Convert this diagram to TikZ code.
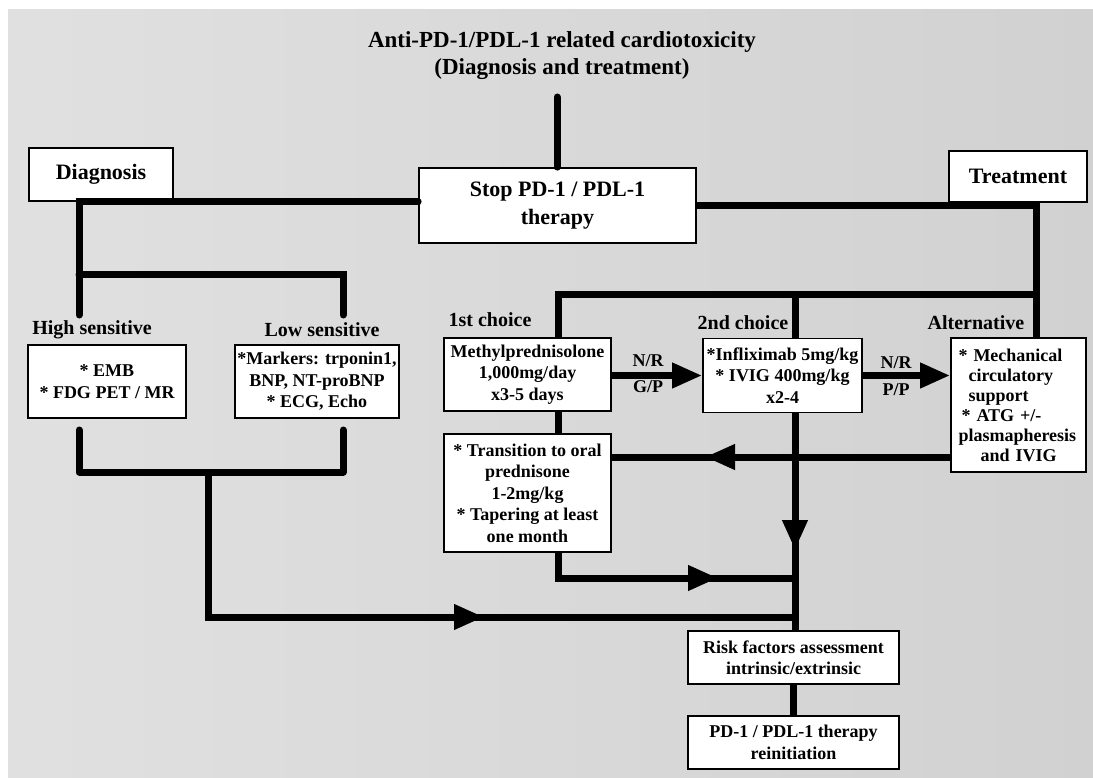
\documentclass[tikz,border=0pt]{standalone}
\usepackage{fontspec}
\setmainfont{Liberation Serif}
\usetikzlibrary{arrows.meta}

\begin{document}
\begin{tikzpicture}
[x=1pt, y=-1pt,
 box/.style={draw, line width=1.8pt, fill=white, align=center, inner sep=0pt,
   font=\bfseries\fontsize{18}{21.5}\selectfont},
 head/.style={box, font=\bfseries\fontsize{22}{28}\selectfont},
 lbl/.style={inner sep=0pt, font=\bfseries\fontsize{20}{24}\selectfont},
 tag/.style={inner sep=0pt, font=\bfseries\fontsize{18}{22}\selectfont},
 >={Triangle[length=30pt, width=24pt]}, line width=7pt]
\fill[white] (0,0) rectangle (1093,778);
\useasboundingbox (0,0) rectangle (1093,778);
\fill[left color=black!12, right color=black!18] (8,10) rectangle (1093,778);

% title and top level
\node[inner sep=0pt, align=center, font=\bfseries\fontsize{23}{27}\selectfont] (title) at (562,56)
  {Anti-PD-1/PDL-1 related cardiotoxicity\\(Diagnosis and treatment)};
\node[head, minimum width=144pt, minimum height=53pt] (diag) at (101,174.5) {Diagnosis};
\node[head, minimum width=277pt, minimum height=75pt] (stop) at (557.5,205.5) {Stop PD-1 / PDL-1\\therapy};
\node[head, minimum width=138pt, minimum height=51pt] (treat) at (1018,176.5) {Treatment};

% diagnosis side
\node[lbl] (hsl) at (92,330) {High sensitive};
\node[lbl] (lsl) at (322,330) {Low sensitive};
\node[box, minimum width=158pt, minimum height=73pt] (high) at (107,381.5) {* EMB\\* FDG PET / MR};
\node[box, minimum width=164pt, minimum height=73pt] (low) at (317,381.5)
  {*Markers: trponin1,\\BNP, NT-proBNP\\* ECG, Echo};

% treatment side
\node[lbl] (c1l) at (490,320) {1st choice};
\node[lbl] (c2l) at (743,323) {2nd choice};
\node[lbl] (altl) at (976,323) {Alternative};
\node[box, minimum width=167pt, minimum height=73pt] (methyl) at (527.5,374.5)
  {Methylprednisolone\\1,000mg/day\\x3-5 days};
\node[box, minimum width=159pt, minimum height=74pt] (second) at (782.5,375.5)
  {*Infliximab 5mg/kg\\* IVIG 400mg/kg\\x2-4};
\node[box, align=left, text width=120pt, minimum width=135pt, minimum height=134pt,
  font=\bfseries\fontsize{18}{20}\selectfont] (alt) at (1018.5,405)
  {* Mechanical\\\hspace*{10pt}circulatory\\\hspace*{10pt}support\\\hspace*{3pt}* ATG +/-\\plasmapheresis\\\hspace*{22pt}and IVIG};
\node[box, minimum width=167pt, minimum height=118pt] (trans) at (527.5,493)
  {* Transition to oral\\prednisone\hspace*{30pt}\\1-2mg/kg\hspace*{30pt}\\* Tapering at least\\one month};
\node[tag] (nr1) at (648,361) {N/R};
\node[tag] (gp) at (648,387) {G/P};
\node[tag] (nr2) at (896,363) {N/R};
\node[tag] (pp) at (896,390) {P/P};

% bottom
\node[box, minimum width=211pt, minimum height=53pt] (risk) at (793.5,657.5)
  {Risk factors assessment\\intrinsic/extrinsic};
\node[box, minimum width=211pt, minimum height=53pt] (pd1) at (793.5,742.5)
  {PD-1 / PDL-1 therapy\\reinitiation};

\coordinate (tt) at (557,97);
\coordinate (d1) at (79,202);
\coordinate (d2) at (79,275);
\coordinate (hsT) at (79,315);
\coordinate (lsT) at (343,315);
\coordinate (hb) at (79,430);
\coordinate (lb) at (343,430);
\coordinate (mid) at (208,472);
\coordinate (a1) at (484,617);
\coordinate (t1) at (1036,206);
\coordinate (t2) at (1036,295);
\coordinate (c1) at (558,295);
\coordinate (c2) at (795,295);
\coordinate (r1) at (705,457);
\coordinate (dn) at (795,550);
\coordinate (a2) at (718,578);

% connectors, arrow heads sit on top of full lines
\draw[line cap=round] (tt) -- (stop.north -| tt);
\draw[line cap=round] (hsT) -- (d1) -- (stop.west |- d1);
\draw[line cap=round] (d2) -| (lsT);
\draw[line cap=round, line join=round] (hb) |- (mid) -| (lb);
\draw (mid) |- (dn |- a1);
\draw[->] (mid) |- (a1);

\draw (stop.east |- t1) -- (t1) -- (alt.north -| t1);
\draw (methyl.north -| c1) -- (c1) -- (t2);
\draw (c2) -- (second.north -| c2);
\draw (methyl.south -| c1) -- (trans.north -| c1);
\draw[->] (methyl.east |- second.west) -- (second.west);
\draw[->] (second.east) -- (alt.west |- second.east);
\draw (alt.west |- r1) -- (trans.east |- r1);
\draw[->] (alt.west |- r1) -- (r1);
\draw (second.south -| c2) -- (risk.north -| c2);
\draw[->] (second.south -| c2) -- (dn);
\draw (trans.south -| c1) |- (dn |- a2);
\draw[->] (trans.south -| c1) |- (a2);
\draw (risk) -- (pd1);
\end{tikzpicture}
\end{document}
